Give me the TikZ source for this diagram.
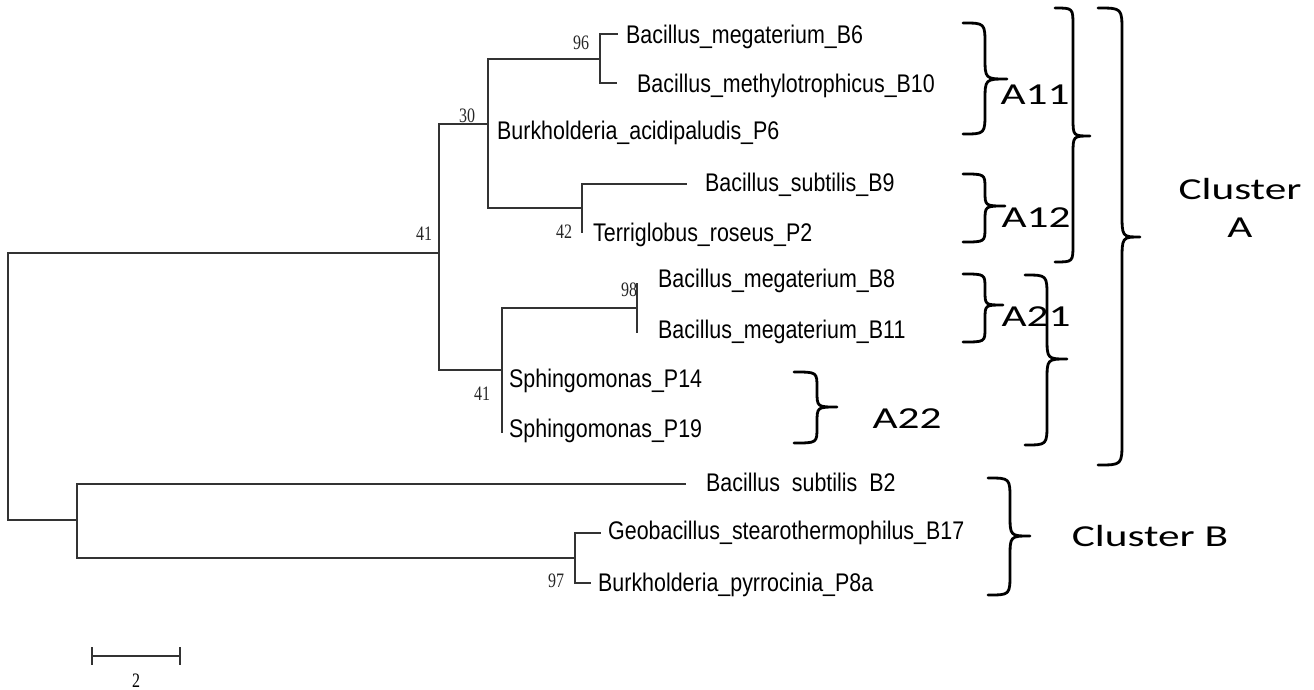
\documentclass[tikz,border=0pt]{standalone}
\usepackage{fontspec}
\newfontfamily\taxfont[FakeStretch=0.84]{Liberation Sans}
\newfontfamily\bootfont[FakeStretch=0.78]{Liberation Serif}
\newfontfamily\clusfont[FakeStretch=1.42]{Carlito}

% curly brace opening to the left: ends x, stem x, tip x, top y, tip y, bottom y
\newcommand{\curlybrace}[6]{%
  \pgfmathsetmacro{\br}{min(#2-#1,(#5-#4)/2.2,(#6-#5)/2.2)}%
  \draw[bracestroke] (#1,#4) .. controls (#2,#4) .. (#2,{#4+\br})
    -- (#2,{#5-\br}) .. controls (#2,#5) .. (#3,#5)
    .. controls (#2,#5) .. (#2,{#5+\br})
    -- (#2,{#6-\br}) .. controls (#2,#6) .. (#1,#6);%
}

\begin{document}
\begin{tikzpicture}[x=1pt,y=-1pt,
  branch/.style={draw=black!80, line width=1.4pt},
  taxon/.style={anchor=base west, inner sep=0pt, font={\taxfont\fontsize{25.5}{30}\selectfont}},
  boot/.style={anchor=base, inner sep=0pt, text=black!85, font={\bootfont\fontsize{20.5}{24}\selectfont}},
  clus/.style={anchor=base, inner sep=0pt, font={\clusfont\fontsize{30.5}{36}\selectfont}},
  bracestroke/.style={draw=black, line width=2.8pt, line cap=round, line join=round}]

\useasboundingbox[fill=white] (0,0) rectangle (1314,689);

% internal nodes of the tree
\coordinate (root) at (8,386);
\coordinate (nA)   at (439,253);
\coordinate (nB)   at (77,520);
\coordinate (nA1)  at (488,124);
\coordinate (nA2)  at (502,370);
\coordinate (n96)  at (600,59);
\coordinate (n42)  at (582,208);
\coordinate (n98)  at (637,308);
\coordinate (n97)  at (575,558);

% branch tips
\coordinate (tB6)  at (618,34);
\coordinate (tB10) at (617,83);
\coordinate (tP6)  at (488,130);
\coordinate (tB9)  at (687,184);
\coordinate (tP2)  at (582,233);
\coordinate (tB8)  at (637,283);
\coordinate (tB11) at (637,333);
\coordinate (tP14) at (502,378);
\coordinate (tP19) at (502,433);
\coordinate (tB2)  at (686,484);
\coordinate (tB17) at (601,533);
\coordinate (tP8a) at (591,583);

% branches
\draw[branch] (root) |- (nA);
\draw[branch] (root) |- (nB);
\draw[branch] (nA) |- (nA1);
\draw[branch] (nA) |- (nA2);
\draw[branch] (nA1) |- (n96);
\draw[branch] (nA1) |- (tP6);
\draw[branch] (nA1) |- (n42);
\draw[branch] (n96) |- (tB6);
\draw[branch] (n96) |- (tB10);
\draw[branch] (n42) |- (tB9);
\draw[branch] (n42) |- (tP2);
\draw[branch] (nA2) |- (n98);
\draw[branch] (nA2) |- (tP14);
\draw[branch] (nA2) |- (tP19);
\draw[branch] (n98) |- (tB8);
\draw[branch] (n98) |- (tB11);
\draw[branch] (nB) |- (tB2);
\draw[branch] (nB) |- (n97);
\draw[branch] (n97) |- (tB17);
\draw[branch] (n97) |- (tP8a);

% taxa
\node[taxon] (lB6)  at (626,43)  {Bacillus\_megaterium\_B6};
\node[taxon] (lB10) at (637,92)  {Bacillus\_methylotrophicus\_B10};
\node[taxon] (lP6)  at (497,139) {Burkholderia\_acidipaludis\_P6};
\node[taxon] (lB9)  at (705,191) {Bacillus\_subtilis\_B9};
\node[taxon] (lP2)  at (593,241) {Terriglobus\_roseus\_P2};
\node[taxon] (lB8)  at (658,287) {Bacillus\_megaterium\_B8};
\node[taxon] (lB11) at (658,338) {Bacillus\_megaterium\_B11};
\node[taxon] (lP14) at (509,387) {Sphingomonas\_P14};
\node[taxon] (lP19) at (509,437) {Sphingomonas\_P19};
\node[taxon] (lB2)  at (706,491) {Bacillus\ \ subtilis\ \ B2};
\node[taxon] (lB17) at (608,539) {Geobacillus\_stearothermophilus\_B17};
\node[taxon] (lP8a) at (598,591) {Burkholderia\_pyrrocinia\_P8a};

% bootstrap values
\node[boot] (b96)  at (581,49)  {96};
\node[boot] (b30)  at (467,122) {30};
\node[boot] (b42)  at (564,238) {42};
\node[boot] (b41a) at (424,240) {41};
\node[boot] (b98)  at (629,296) {98};
\node[boot] (b41b) at (482,400) {41};
\node[boot] (b97)  at (556,587) {97};

% scale bar
\coordinate (sL)  at (92,656);
\coordinate (sR)  at (180,656);
\coordinate (sLt) at (92,647);
\coordinate (sLb) at (92,665);
\coordinate (sRt) at (180,647);
\coordinate (sRb) at (180,665);
\draw[branch] (sL) -- (sR);
\draw[branch] (sLt) -- (sLb);
\draw[branch] (sRt) -- (sRb);
\node[boot, text=black] (scaleval) at (136,687) {2};

% group labels
\node[clus] (gA11) at (1035,104.7) {A11};
\node[clus] (gA12) at (1036,227.7) {A12};
\node[clus] (gA21) at (1036,326.7) {A21};
\node[clus] (gA22) at (907,428)    {A22};
\node[clus] (gCA1) at (1240,199.7) {Cluster};
\node[clus] (gCA2) at (1240,237.7) {A};
\node[clus] (gCB)  at (1150,546.7) {Cluster B};

% group braces
\curlybrace{963}{985}{1007}{23}{79}{134}
\curlybrace{963}{985}{1005}{174}{206}{242}
\curlybrace{963}{985}{1003}{274}{305}{342}
\curlybrace{794}{817}{837}{372}{407}{443}
\curlybrace{1055}{1073}{1090}{8}{136}{262}
\curlybrace{1025}{1047}{1067}{275}{359}{445}
\curlybrace{1098}{1122}{1140}{8}{237}{465}
\curlybrace{988}{1010}{1030}{478}{536}{595}

\end{tikzpicture}
\end{document}
